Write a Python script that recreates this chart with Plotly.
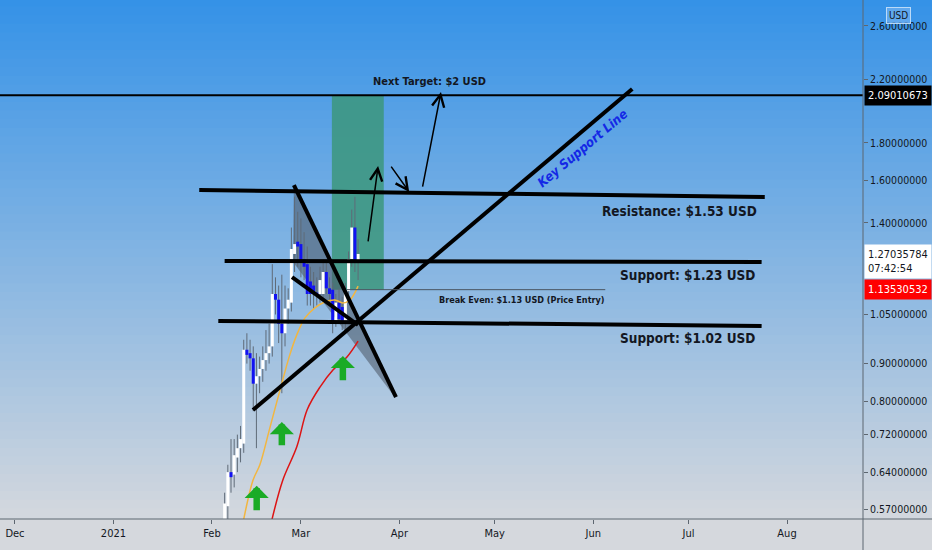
import numpy as np
import pandas as pd
import plotly.graph_objects as go

# daily candles, Feb 5 - Mar 19 2021
candle_dates = pd.date_range("2021-02-05", "2021-03-19", freq="D")
open_px = [0.545, 0.575, 0.64, 0.635, 0.67, 0.69, 0.70, 0.94, 0.93, 0.915, 0.845, 0.865, 0.885, 0.91, 0.93,
           0.95, 1.12, 1.10, 1.02, 0.99, 1.07, 1.09, 1.27, 1.32, 1.31, 1.25, 1.23, 1.165, 1.15, 1.125,
           1.12, 1.12, 1.20, 1.14, 1.135, 1.03, 1.09, 1.075, 1.03, 1.13, 1.25, 1.38, 1.24]
high_px = [0.60, 0.655, 0.71, 0.71, 0.72, 0.74, 0.97, 0.99, 0.97, 0.95, 0.93, 0.92, 0.95, 1.00, 1.02,
           1.23, 1.18, 1.15, 1.19, 1.15, 1.14, 1.38, 1.52, 1.45, 1.42, 1.36, 1.30, 1.22, 1.20, 1.18,
           1.22, 1.25, 1.24, 1.18, 1.16, 1.12, 1.14, 1.11, 1.16, 1.28, 1.46, 1.52, 1.33]
low_px = [0.53, 0.55, 0.60, 0.61, 0.64, 0.66, 0.68, 0.90, 0.88, 0.775, 0.69, 0.82, 0.85, 0.88, 0.90,
          0.92, 1.05, 0.96, 0.82, 0.95, 1.02, 1.06, 1.20, 1.22, 1.18, 1.17, 1.08, 1.08, 1.07, 1.08,
          1.09, 1.10, 1.12, 1.08, 0.99, 1.01, 1.02, 1.00, 1.00, 1.10, 1.22, 1.20, 1.17]
close_px = [0.58, 0.64, 0.63, 0.675, 0.69, 0.71, 0.94, 0.925, 0.915, 0.845, 0.865, 0.885, 0.91, 0.93, 0.95,
            1.12, 1.10, 1.02, 0.99, 1.07, 1.10, 1.29, 1.31, 1.30, 1.24, 1.22, 1.12, 1.12, 1.12, 1.115,
            1.17, 1.20, 1.14, 1.12, 1.03, 1.09, 1.035, 1.03, 1.13, 1.25, 1.38, 1.24, 1.27]

# moving averages
ma_fast_dates = ["2021-02-11", "2021-02-13 22:00", "2021-02-16 02:00", "2021-02-19 05:00", "2021-02-22 10:00",
                 "2021-02-25 12:00", "2021-02-27 17:00", "2021-03-02 07:00", "2021-03-05 10:00",
                 "2021-03-08 12:00", "2021-03-11 17:00", "2021-03-14 05:00", "2021-03-16 10:00", "2021-03-19"]
ma_fast = [0.552, 0.624, 0.655, 0.735, 0.828, 0.925, 0.985, 1.039, 1.072, 1.092, 1.099, 1.089, 1.099, 1.148]
ma_slow_dates = ["2021-02-19 22:00", "2021-02-23 07:00", "2021-02-27 17:00", "2021-03-03", "2021-03-07",
                 "2021-03-11 02:00", "2021-03-15 12:00", "2021-03-19"]
ma_slow = [0.552, 0.624, 0.693, 0.779, 0.836, 0.882, 0.919, 0.966]

# price levels
target_px = 2.09010673
last_px = 1.27035784
entry_px = 1.13530532
last_time = "07:42:54"

# drawn trend lines: (dates, prices)
resistance = (["2021-01-28", "2021-07-25"], [1.552, 1.519])
support_hi = (["2021-02-05", "2021-07-24"], [1.242, 1.238])
support_lo = (["2021-02-03", "2021-07-24"], [1.029, 1.013])
wedge_top = (["2021-02-26 19:00", "2021-03-30 22:00"], [1.577, 0.810])
wedge_low = (["2021-02-26 05:00", "2021-03-19"], [1.181, 1.016])
key_support = (["2021-02-13 22:00", "2021-06-13 07:00"], [0.778, 2.132])
triangle = (["2021-02-26 19:00", "2021-03-30 14:00", "2021-02-26 12:00"], [1.577, 0.810, 1.238])

# long position box
box_dates = ["2021-03-10 18:00", "2021-03-27 02:00"]
entry_line_start = "2021-03-15 12:00"
entry_line_end = "2021-06-04 19:00"

# black arrows (tail, head)
arrows = [
    (("2021-03-22 02:00", 1.315), ("2021-03-25 07:00", 1.674)),
    (("2021-03-29 02:00", 1.679), ("2021-04-04 02:00", 1.543)),
    (("2021-04-08 05:00", 1.562), ("2021-04-14 02:00", 2.112)),
]
# green up arrows (date, tail, tip)
green_arrows = [
    ("2021-02-15 02:00", 0.565, 0.613),
    ("2021-02-23", 0.693, 0.749),
    ("2021-03-14 05:00", 0.850, 0.922),
]

x_range = ["2020-11-26 07:00", "2021-08-24 22:00"]
y_range = [0.5524, 2.82]
month_ticks = ["2020-12-01", "2021-01-01", "2021-02-01", "2021-03-01", "2021-04-01",
               "2021-05-01", "2021-06-01", "2021-07-01", "2021-08-01"]
month_labels = ["Dec", "2021", "Feb", "Mar", "Apr", "May", "Jun", "Jul", "Aug"]
price_ticks = [0.57, 0.64, 0.72, 0.80, 0.90, 1.05, 1.40, 1.60, 1.80, 2.20, 2.60]

FONT = "DejaVu Sans Condensed, Liberation Sans, sans-serif"
W, H = 932, 550
ML, MR, MT, MB = 0, 69, 0, 31
plot_w = W - ML - MR
plot_h = H - MT - MB

fig = go.Figure()

# background gradient (overlapping bands so no seams show)
shapes = []
n_bands = 60
top_rgb = np.array([52, 146, 232])
bot_rgb = np.array([212, 216, 222])
for i in range(n_bands):
    t = (i + 0.5) / n_bands
    c = top_rgb + (bot_rgb - top_rgb) * t
    y1 = 1 - i / n_bands + (0.02 if i == 0 else 0.004)
    y0 = 1 - (i + 1) / n_bands - 0.004
    shapes.append(dict(type="rect", xref="paper", yref="paper", x0=-0.01, x1=W / plot_w + 0.01,
                       y0=y0, y1=y1, line=dict(width=0), layer="below",
                       fillcolor="rgb(%d,%d,%d)" % tuple(c.astype(int))))
shapes.append(dict(type="rect", xref="paper", yref="paper", x0=-0.01, x1=W / plot_w + 0.01,
                   y0=-MB / plot_h - 0.02, y1=0, line=dict(width=0), layer="below",
                   fillcolor="rgb(213,216,221)"))

# long position box and entry line
shapes.append(dict(type="rect", xref="x", yref="y", x0=box_dates[0], x1=box_dates[1],
                   y0=entry_px, y1=target_px, line=dict(width=0), layer="below",
                   fillcolor="rgba(60,150,125,0.85)"))
shapes.append(dict(type="line", xref="x", yref="y", x0=entry_line_start, x1=entry_line_end,
                   y0=entry_px, y1=entry_px, line=dict(color="#4a5560", width=1)))
# axis frame lines
shapes.append(dict(type="line", xref="paper", yref="paper", x0=0, x1=W / plot_w, y0=0, y1=0,
                   line=dict(color="#5d6670", width=1)))
shapes.append(dict(type="line", xref="paper", yref="paper", x0=1, x1=1, y0=-MB / plot_h, y1=1,
                   line=dict(color="#5d6670", width=1)))

# triangle fill
fig.add_trace(go.Scatter(x=triangle[0], y=triangle[1], fill="toself", mode="lines",
                         fillcolor="rgba(75,85,100,0.55)", line=dict(width=0),
                         hoverinfo="skip", showlegend=False))

# candle wicks and bodies
wx, wy = [], []
for d, lo, hi in zip(candle_dates, low_px, high_px):
    wx += [d, d, None]
    wy += [lo, hi, None]
fig.add_trace(go.Scatter(x=wx, y=wy, mode="lines", line=dict(color="#5f6b78", width=1),
                         hoverinfo="skip", showlegend=False))
for up, col in [(True, "#ffffff"), (False, "#1212f2")]:
    bx, by = [], []
    for d, o, c in zip(candle_dates, open_px, close_px):
        if (c >= o) == up:
            bx += [d, d, None]
            by += [o, c, None]
    fig.add_trace(go.Scatter(x=bx, y=by, mode="lines", line=dict(color=col, width=3),
                             hoverinfo="skip", showlegend=False))

# moving averages
fig.add_trace(go.Scatter(x=ma_fast_dates, y=ma_fast, mode="lines",
                         line=dict(color="#f2b640", width=1.5, shape="spline"),
                         hoverinfo="skip", showlegend=False))
fig.add_trace(go.Scatter(x=ma_slow_dates, y=ma_slow, mode="lines",
                         line=dict(color="#dd1414", width=1.5, shape="spline"),
                         hoverinfo="skip", showlegend=False))

# thick black trend lines
for ln in [resistance, support_hi, support_lo, wedge_top, wedge_low, key_support]:
    fig.add_trace(go.Scatter(x=ln[0], y=ln[1], mode="lines", line=dict(color="#000000", width=4),
                             hoverinfo="skip", showlegend=False))
fig.add_trace(go.Scatter(x=x_range, y=[target_px, target_px], mode="lines",
                         line=dict(color="#000000", width=2), hoverinfo="skip", showlegend=False))

ann = []
for (tx, ty), (hx, hy) in arrows:
    ann.append(dict(x=hx, y=np.log10(hy), ax=tx, ay=np.log10(ty), xref="x", yref="y",
                    axref="x", ayref="y", text="", showarrow=True, arrowhead=5,
                    arrowsize=1.6, arrowwidth=1.5, arrowcolor="#000000"))
for d, tail, tip in green_arrows:
    ann.append(dict(x=d, y=np.log10(tip), ax=d, ay=np.log10(tail), xref="x", yref="y",
                    axref="x", ayref="y", text="", showarrow=True, arrowhead=1,
                    arrowsize=0.62, arrowwidth=6.5, arrowcolor="#1aab26"))


def label(x, y, text, size, xanchor="center", color="#131722"):
    return dict(x=x, y=np.log10(y), xref="x", yref="y", text="<b>%s</b>" % text, showarrow=False,
                xanchor=xanchor, yanchor="middle", font=dict(family=FONT, size=size, color=color))


ann.append(label("2021-04-10 14:00", 2.186, "Next Target: $2 USD", 11))
ann.append(label("2021-07-23 07:00", 1.453, "Resistance: $1.53 USD", 13.5, "right"))
ann.append(label("2021-07-22 10:00", 1.189, "Support: $1.23 USD", 13.5, "right"))
ann.append(label("2021-07-22 10:00", 0.975, "Support: $1.02 USD", 13.5, "right"))
ann.append(label("2021-05-09 12:00", 1.099, "Break Even: $1.13 USD (Price Entry)", 9))
ann.append(dict(x="2021-05-28 12:00", y=np.log10(1.771), xref="x", yref="y",
                text="<b><i>Key Support Line</i></b>", showarrow=False, textangle=-40,
                font=dict(family=FONT, size=13, color="#1428e6")))


# price scale labels
def price_tag(y, text, bg, fg, yanchor="middle", yshift=0):
    return dict(x=1, y=np.log10(y), xref="paper", yref="y", text=text, showarrow=False,
                xanchor="left", yanchor=yanchor, xshift=1, yshift=yshift, align="left",
                bgcolor=bg, borderpad=3, font=dict(family=FONT, size=11, color=fg))


ann.append(price_tag(target_px, "%.8f" % target_px, "#000000", "#ffffff"))
ann.append(price_tag(last_px, "%.8f<br>%s" % (last_px, last_time), "#ffffff", "#131722", "top", 10))
ann.append(price_tag(entry_px, "%.8f" % entry_px, "#ff0000", "#ffffff"))
ann.append(dict(x=1, y=1, xref="paper", yref="paper", text="USD", showarrow=False,
                xanchor="left", yanchor="top", xshift=23, yshift=-7, bgcolor="rgba(110,175,240,0.75)",
                bordercolor="rgba(200,225,250,0.9)", borderwidth=1, borderpad=2,
                font=dict(family=FONT, size=10, color="#131722")))

fig.update_layout(
    width=W, height=H,
    margin=dict(l=ML, r=MR, t=MT, b=MB),
    paper_bgcolor="rgb(213,216,221)",
    plot_bgcolor="rgba(0,0,0,0)",
    shapes=shapes,
    annotations=ann,
    showlegend=False,
    hovermode=False,
    xaxis=dict(type="date", range=x_range, tickvals=month_ticks, ticktext=month_labels,
               showgrid=False, zeroline=False, showline=False, ticks="outside", ticklen=4,
               tickcolor="#5d6670", automargin=False,
               tickfont=dict(family=FONT, size=11, color="#131722")),
    yaxis=dict(type="log", side="right", range=[np.log10(y_range[0]), np.log10(y_range[1])],
               tickvals=price_ticks, ticktext=["%.8f" % v for v in price_ticks],
               showgrid=False, zeroline=False, showline=False, ticks="outside", ticklen=4,
               tickcolor="#5d6670", automargin=False,
               tickfont=dict(family=FONT, size=10.5, color="#131722")),
)

fig.write_html("out.html", config={"displayModeBar": False},
               post_script="document.body.style.margin='0';")
